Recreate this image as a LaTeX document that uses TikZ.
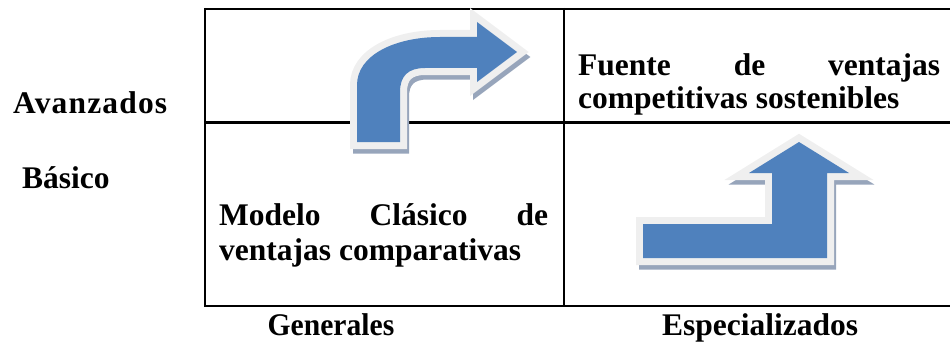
\documentclass[tikz,border=0pt]{standalone}
\usepackage{fontspec}
\setmainfont{Liberation Serif}
\definecolor{arrowblue}{HTML}{4F81BD}
\definecolor{glowgray}{HTML}{EFEFEF}
\definecolor{shadowgray}{HTML}{97A5BB}
\tikzset{
  lbl/.style={font=\fontsize{31.5}{36}\selectfont\bfseries, inner sep=0pt, anchor=base west},
  gridline/.style={line width=2.2pt, draw=black},
  bentA/.pic={\path[pic actions] (357,142) -- (357,85) .. controls (357,55) and (395,37) .. (440,37) -- (477,37) -- (477,22) -- (517,52) -- (477,82) -- (477,68) -- (425,68) .. controls (408,68) and (400,76) .. (400,92) -- (400,142) -- cycle;},
  bentB/.pic={\path[pic actions] (643,224) -- (772,224) -- (772,173) -- (749,173) -- (799,142) -- (849,173) -- (827,173) -- (827,258) -- (643,258) -- cycle;},
  shadowlayer/.style={draw=shadowgray, fill=shadowgray, line width=13pt, line join=miter},
  glowlayer/.style={draw=glowgray, fill=glowgray, line width=14pt, line join=miter},
  bluelayer/.style={fill=arrowblue},
}
\begin{document}
\begin{tikzpicture}[x=1pt,y=-1pt]
\path[use as bounding box] (0,0) rectangle (950,345);
% grid
\draw[gridline] (204,9) -- (950,9);
\draw[gridline] (204,122.5) -- (950,122.5);
\draw[gridline] (204,306) -- (950,306);
\draw[gridline] (205,8) -- (205,307);
\draw[gridline] (564,8) -- (564,307);
% arrows
\pic[shadowlayer] at (2.5,5) {bentA};
\pic[glowlayer] at (0,0) {bentA};
\pic[bluelayer] at (0,0) {bentA};
\pic[shadowlayer] at (2.5,5) {bentB};
\pic[glowlayer] at (0,0) {bentB};
\pic[bluelayer] at (0,0) {bentB};
% texts
\node[lbl] (avz) at (13,113) {\addfontfeatures{LetterSpace=3.7}Avanzados};
\node[lbl] (bas) at (22,188) {Básico};
\node[lbl, anchor=base] (gen) at (331,335) {\scalebox{0.94}[1]{Generales}};
\node[lbl, anchor=base] (esp) at (760,335) {Especializados};
\node[lbl] (fue1) at (578,75) {\makebox[362pt][s]{Fuente de ventajas}};
\node[lbl] (fue2) at (578,108) {competitivas sostenibles};
\node[lbl] (mod1) at (219,225) {\makebox[329pt][s]{Modelo Clásico de}};
\node[lbl] (mod2) at (219,260) {ventajas comparativas};
\end{tikzpicture}
\end{document}
